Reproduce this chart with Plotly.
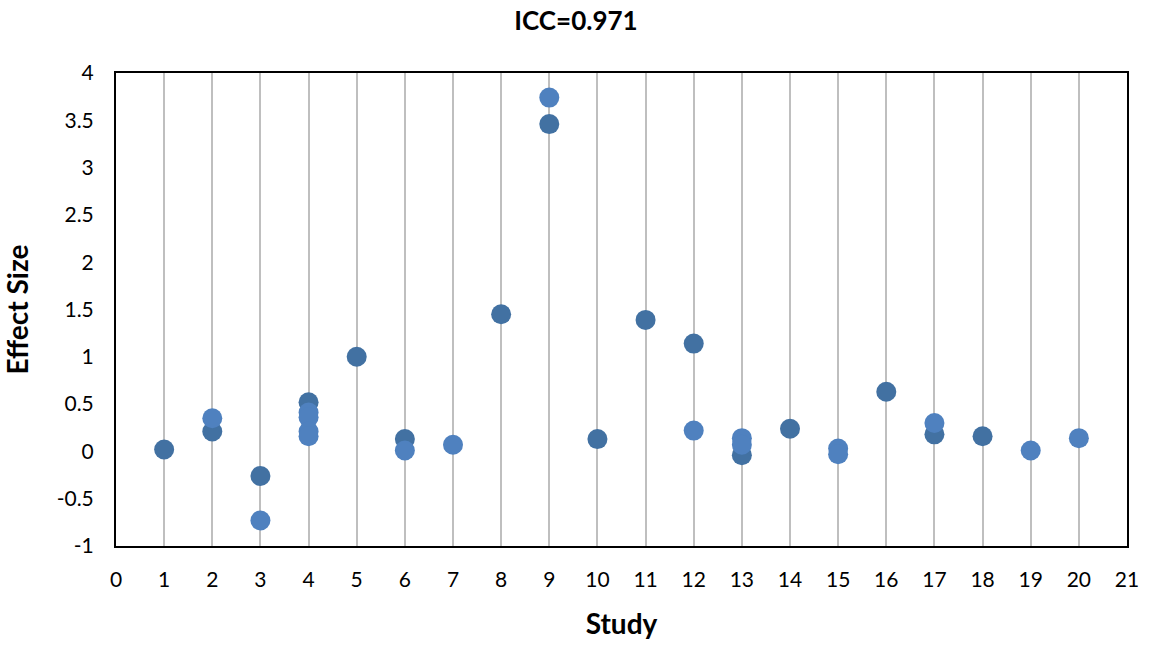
import plotly.graph_objects as go

# Series A (darker markers)
study_a = [1, 2, 3, 4, 5, 6, 8, 9, 10, 11, 12, 13, 14, 16, 17, 18]
es_a = [0.02, 0.21, -0.26, 0.52, 1.00, 0.13, 1.45, 3.46, 0.13, 1.39, 1.14, -0.04, 0.24, 0.63, 0.18, 0.16]

# Series B (lighter markers)
study_b = [2, 3, 4, 4, 4, 4, 6, 7, 9, 12, 13, 13, 15, 15, 17, 19, 20]
es_b = [0.35, -0.73, 0.41, 0.36, 0.21, 0.16, 0.01, 0.07, 3.74, 0.22, 0.14, 0.07, 0.03, -0.03, 0.30, 0.01, 0.14]

y_tickvals = [-1, -0.5, 0, 0.5, 1, 1.5, 2, 2.5, 3, 3.5, 4]
y_ticktext = ["-1", "-0.5", "0", "0.5", "1", "1.5", "2", "2.5", "3", "3.5", "4"]

title_text = "ICC=0.971"
x_title = "Study"
y_title = "Effect Size"

FONT = "Lato, Carlito, Calibri, sans-serif"

fig = go.Figure()
fig.add_trace(go.Scatter(x=study_a, y=es_a, mode="markers",
                         marker=dict(size=20, color="#4271A2", line=dict(width=0)),
                         showlegend=False))
fig.add_trace(go.Scatter(x=study_b, y=es_b, mode="markers",
                         marker=dict(size=20, color="#4F81BF", line=dict(width=0)),
                         showlegend=False))

fig.update_layout(
    width=1152, height=647,
    margin=dict(l=116, r=25, t=73, b=99),
    paper_bgcolor="white", plot_bgcolor="white",
    font=dict(family=FONT, size=21, color="black"),
    title=dict(text=f"<b>{title_text}</b>", x=0.5, xanchor="center",
               y=1 - 21 / 647, yanchor="middle", font=dict(size=26, family=FONT)),
)
fig.update_xaxes(
    range=[0, 21], dtick=1, tick0=0,
    showgrid=True, gridcolor="#BFBFBF", gridwidth=2,
    showline=True, linecolor="black", linewidth=2, mirror=True,
    zeroline=False, ticks="", ticklabelstandoff=14,
    title=dict(text=f"<b>{x_title}</b>", font=dict(size=28), standoff=24),
)
fig.update_yaxes(
    range=[-1, 4], tickmode="array", tickvals=y_tickvals, ticktext=y_ticktext,
    showgrid=False,
    showline=True, linecolor="black", linewidth=2, mirror=True,
    zeroline=False, ticks="", ticklabelstandoff=16,
    title=dict(text=f"<b>{y_title}</b>", font=dict(size=28), standoff=20),
)

fig.write_html("out.html")
